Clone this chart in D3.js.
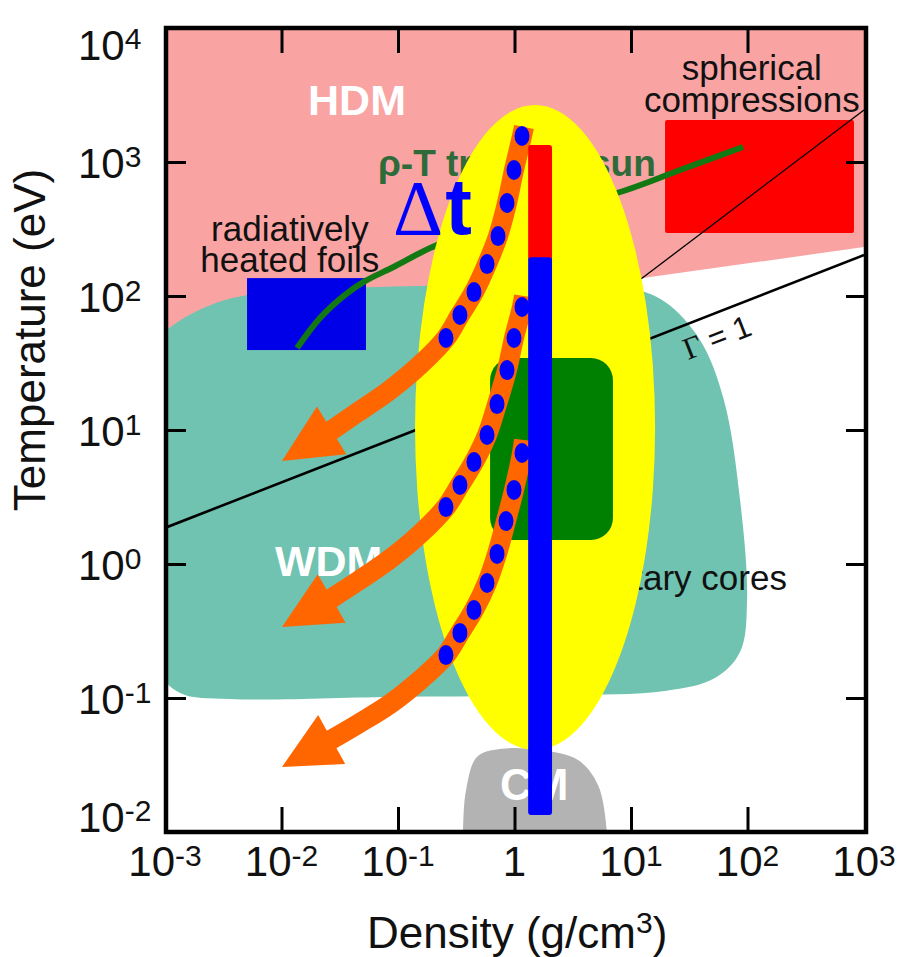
<!DOCTYPE html>
<html><head><meta charset="utf-8">
<script src="https://cdn.jsdelivr.net/npm/d3@7"></script>
<style>body{margin:0;background:#fff}</style>
</head><body>
<svg id="chart" width="912" height="957"></svg>
<script>
// ---------- axis ticks ----------
const xTicks = [1e-3, 1e-2, 1e-1, 1, 1e1, 1e2, 1e3];
const xTickBase = ["10", "10", "10", "1", "10", "10", "10"];
const xTickExp = ["-3", "-2", "-1", "", "1", "2", "3"];
const yTicks = [1e4, 1e3, 1e2, 1e1, 1e0, 1e-1, 1e-2];
const yTickBase = ["10", "10", "10", "10", "10", "10", "10"];
const yTickExp = ["4", "3", "2", "1", "0", "-1", "-2"];

// ---------- regions [density g/cm3, temperature eV] ----------
const hdmRegion = [[1e-3, 1e4], [1e3, 1e4], [1e3, 232], [12.7, 136], [1e-3, 40]];
const wdmRegion = [[9e-4, 48.6], [1.148e-3, 59.7], [1.81e-3, 76.0], [3.27e-3, 93.3], [6.54e-3, 105], [0.0214, 113],
  [0.155, 119], [2.46, 123], [8.87, 117], [19.6, 90.2], [39.1, 47.0], [62.8, 16.7], [86.3, 3.01], [99.1, 0.538],
  [86.3, 0.220], [52.6, 0.141], [19.6, 0.113], [2.46, 0.105], [0.104, 0.102], [3.61e-3, 0.0984], [1.35e-3, 0.109], [9e-4, 0.162]];
const cmRegion = [[0.361, 0.008], [0.361, 0.0098], [0.384, 0.0206], [0.476, 0.0363], [0.752, 0.0416],
  [1.66, 0.0409], [3.51, 0.0344], [5.21, 0.0224], [6.22, 0.0098], [6.22, 0.008]];

// ---------- experiment boxes ----------
const foilsRho = [0.00506, 0.0531];
const foilsT = [39.5, 136];
const sphereRho = [19.6, 820];
const sphereT = [295, 2056];
const ellipseRho = [0.140, 16.1];
const ellipseT = [0.0409, 2661];
const greenBoxRho = [0.617, 7.0];
const greenBoxT = [1.51, 34.4];
const barRho = [1.31, 2.10];
const barRedT = [195, 1340];
const barBlueT = [0.0134, 195];

// ---------- lines ----------
const sunTrack = [[0.0136, 40.9], [0.0214, 68.5], [0.0351, 102], [0.0521, 129], [0.0906, 164], [0.216, 240],
  [1.28, 402], [7.59, 587], [26.4, 871], [91.5, 1294]];
const gammaLine = [[1e-3, 1.86], [1e3, 202]];
const thinLine = [[1, 25.8], [1000, 2443]];

// ---------- arrows ----------
const arrowStarts = [[1.206, 1825], [1.206, 100], [1.206, 8.42]];
const arrowDots = [
  [[1.16, 1563], [0.99, 871], [0.862, 494], [0.722, 280], [0.581, 173], [0.449, 107], [0.34, 72.1], [0.258, 48.6]],
  [[1.16, 82.8], [0.99, 48.6], [0.862, 28.0], [0.708, 15.6], [0.581, 9.18], [0.449, 5.77], [0.34, 3.89], [0.258, 2.66]],
  [[1.16, 6.74], [0.99, 3.57], [0.845, 2.09], [0.708, 1.19], [0.581, 0.722], [0.449, 0.454], [0.34, 0.306], [0.258, 0.209]]
];
const arrowTails = [
  [[0.1545, 30.6], [0.0854, 19.9], [0.0454, 13.6], [0.0256, 9.66]],
  [[0.1545, 1.675], [0.0854, 1.09], [0.0454, 0.746], [0.0256, 0.539]],
  [[0.1545, 0.136], [0.0854, 0.0902], [0.0454, 0.064], [0.0256, 0.0478]]
];
const arrowTips = [[0.0101, 5.87], [0.0101, 0.339], [0.0101, 0.0306]];

// ---------- annotations ----------
const annotations = [
  {text: "HDM", rho: 0.0169, T: 2244, cls: "big"},
  {text: "WDM", rho: 0.00879, T: 0.813, cls: "big"},
  {text: "radiatively", rho: 0.0118, T: 257, cls: "lbl", anchor: "middle"},
  {text: "heated foils", rho: 0.0118, T: 151, cls: "lbl", anchor: "middle"},
  {text: "spherical", rho: 109, T: 4093, cls: "lbl", anchor: "middle"},
  {text: "compressions", rho: 109, T: 2361, cls: "lbl", anchor: "middle"},
  {text: "planetary cores", rho: 218, T: 0.640, cls: "lbl", anchor: "end"}
];
const sunLabel = {text: "ρ-T track of sun", rho: 0.0673, T: 787};
const gammaLabel = {rho: 30.8, T: 33.3};
const cmLabel = {text: "CM", rho: 0.752, T: 0.0173};
const dtLabel = {rho: 0.0906, T: 290};

// ---------- layout ----------
const W = 912, H = 957;
const frame = {left: 166, right: 866, top: 28, bottom: 832};
const sans = "'Liberation Sans', Arial, Helvetica, sans-serif";
const serif = "'Liberation Serif', 'Times New Roman', serif";

const x = d3.scaleLog().domain([1e-3, 1e3]).range([165, 864]);
const y = d3.scaleLog().domain([1e-2, 1e4]).range([832, 28]);

const svg = d3.select("#chart");
svg.append("rect").attr("width", W).attr("height", H).attr("fill", "#fff");

svg.append("clipPath").attr("id", "plotClip").append("rect")
  .attr("x", frame.left).attr("y", frame.top)
  .attr("width", frame.right - frame.left).attr("height", frame.bottom - frame.top);

const g = svg.append("g").attr("clip-path", "url(#plotClip)");

const lineLin = d3.line().x(d => x(d[0])).y(d => y(d[1]));
const lineClosed = d3.line().x(d => x(d[0])).y(d => y(d[1])).curve(d3.curveCatmullRomClosed.alpha(0.5));
const lineSmooth = d3.line().x(d => x(d[0])).y(d => y(d[1])).curve(d3.curveCatmullRom.alpha(0.5));

// regions
g.append("path").attr("d", lineLin(hdmRegion) + "Z").attr("fill", "#f9a3a3");
g.append("path").attr("d", lineClosed(wdmRegion)).attr("fill", "#6fc3b0");
g.append("path").attr("d", lineClosed(cmRegion)).attr("fill", "#b3b3b3");

// boxes
g.append("rect").attr("x", x(foilsRho[0])).attr("y", y(foilsT[1]))
  .attr("width", x(foilsRho[1]) - x(foilsRho[0])).attr("height", y(foilsT[0]) - y(foilsT[1]))
  .attr("fill", "#0000e8");
g.append("rect").attr("x", x(sphereRho[0])).attr("y", y(sphereT[1]))
  .attr("width", x(sphereRho[1]) - x(sphereRho[0])).attr("height", y(sphereT[0]) - y(sphereT[1]))
  .attr("rx", 2).attr("fill", "#ff0000");

// lines
g.append("path").attr("d", lineSmooth(sunTrack)).attr("fill", "none")
  .attr("stroke", "#137a13").attr("stroke-width", 6);
g.append("path").attr("d", lineLin(gammaLine)).attr("fill", "none")
  .attr("stroke", "#000").attr("stroke-width", 2.6);
g.append("path").attr("d", lineLin(thinLine)).attr("fill", "none")
  .attr("stroke", "#000").attr("stroke-width", 1.3);

// annotation text
annotations.forEach(a => {
  const t = g.append("text").attr("x", x(a.rho)).attr("y", y(a.T))
    .attr("font-family", sans).attr("text-anchor", a.anchor || "start").text(a.text);
  if (a.cls === "big") t.attr("font-size", 43).attr("font-weight", "bold").attr("fill", "#ffffff");
  else t.attr("font-size", 35).attr("fill", "#111");
});
g.append("text").attr("x", x(sunLabel.rho)).attr("y", y(sunLabel.T))
  .attr("font-family", sans).attr("font-size", 37).attr("font-weight", "bold")
  .attr("fill", "#2f6b3a").text(sunLabel.text);
const gl = g.append("text")
  .attr("transform", `translate(${x(gammaLabel.rho)},${y(gammaLabel.T)}) rotate(-21.3)`)
  .attr("font-size", 31).attr("fill", "#111");
gl.append("tspan").attr("font-family", serif).text("Γ");
gl.append("tspan").attr("font-family", sans).text(" = 1");
g.append("text").attr("x", x(cmLabel.rho)).attr("y", y(cmLabel.T))
  .attr("font-family", sans).attr("font-size", 44).attr("font-weight", "bold")
  .attr("fill", "#ffffff").text(cmLabel.text);

// yellow ellipse
const ex0 = x(ellipseRho[0]), ex1 = x(ellipseRho[1]), ey0 = y(ellipseT[1]), ey1 = y(ellipseT[0]);
g.append("ellipse").attr("cx", (ex0 + ex1) / 2).attr("cy", (ey0 + ey1) / 2)
  .attr("rx", (ex1 - ex0) / 2).attr("ry", (ey1 - ey0) / 2).attr("fill", "#ffff00");

// green rounded box
g.append("rect").attr("x", x(greenBoxRho[0])).attr("y", y(greenBoxT[1]))
  .attr("width", x(greenBoxRho[1]) - x(greenBoxRho[0])).attr("height", y(greenBoxT[0]) - y(greenBoxT[1]))
  .attr("rx", 22).attr("fill", "#008000");

// arrows
arrowStarts.forEach((s, i) => {
  const pts = [s, ...arrowDots[i], ...arrowTails[i]];
  g.append("path").attr("d", lineSmooth(pts)).attr("fill", "none")
    .attr("stroke", "#ff6600").attr("stroke-width", 20).attr("stroke-linecap", "butt");
  const last = arrowTails[i][arrowTails[i].length - 1];
  const bx = x(last[0]), by = y(last[1]);
  const tx = x(arrowTips[i][0]), ty = y(arrowTips[i][1]);
  const len = Math.hypot(tx - bx, ty - by);
  const ux = (tx - bx) / len, uy = (ty - by) / len;
  const px = -uy, py = ux, half = 28;
  const b2x = bx - ux * 3, b2y = by - uy * 3;
  g.append("path")
    .attr("d", `M${tx},${ty}L${b2x + px * half},${b2y + py * half}L${b2x - px * half},${b2y - py * half}Z`)
    .attr("fill", "#ff6600");
  g.selectAll(null).data(arrowDots[i]).enter().append("ellipse")
    .attr("cx", d => x(d[0])).attr("cy", d => y(d[1]))
    .attr("rx", 7.5).attr("ry", 10).attr("fill", "#0000ff");
});

// vertical bar
g.append("rect").attr("x", x(barRho[0])).attr("y", y(barRedT[1]))
  .attr("width", x(barRho[1]) - x(barRho[0])).attr("height", y(barRedT[0]) - y(barRedT[1]) + 4)
  .attr("rx", 3).attr("fill", "#ff0000");
g.append("rect").attr("x", x(barRho[0])).attr("y", y(barBlueT[1]))
  .attr("width", x(barRho[1]) - x(barRho[0])).attr("height", y(barBlueT[0]) - y(barBlueT[1]))
  .attr("rx", 3).attr("fill", "#0000ff");

// Δt
const dt = g.append("text").attr("x", x(dtLabel.rho)).attr("y", y(dtLabel.T)).attr("fill", "#0000ff");
dt.append("tspan").attr("font-family", serif).attr("font-size", 78).text("Δ");
dt.append("tspan").attr("font-family", sans).attr("font-weight", "bold").attr("font-size", 80).attr("dx", 2).text("t");

// ---------- axes ----------
const innerX = xTicks.slice(1, -1);
const innerY = yTicks.slice(1, -1);
function styleAxis(sel) {
  sel.select(".domain").remove();
  sel.selectAll(".tick line").attr("stroke", "#000").attr("stroke-width", 3);
  sel.selectAll(".tick text").remove();
}
svg.append("g").attr("transform", `translate(0,${frame.bottom})`)
  .call(d3.axisBottom(x).tickValues(innerX).tickSize(-25).tickFormat("")).call(styleAxis);
svg.append("g").attr("transform", `translate(0,${frame.top})`)
  .call(d3.axisTop(x).tickValues(innerX).tickSize(-25).tickFormat("")).call(styleAxis);
svg.append("g").attr("transform", `translate(${frame.left},0)`)
  .call(d3.axisLeft(y).tickValues(innerY).tickSize(-20).tickFormat("")).call(styleAxis);
svg.append("g").attr("transform", `translate(${frame.right},0)`)
  .call(d3.axisRight(y).tickValues(innerY).tickSize(-20).tickFormat("")).call(styleAxis);

svg.append("rect").attr("x", frame.left).attr("y", frame.top)
  .attr("width", frame.right - frame.left).attr("height", frame.bottom - frame.top)
  .attr("fill", "none").attr("stroke", "#000").attr("stroke-width", 4.5);

// tick labels
xTicks.forEach((v, i) => {
  const t = svg.append("text").attr("x", x(v)).attr("y", 876).attr("text-anchor", "middle")
    .attr("font-family", sans).attr("font-size", 42).attr("fill", "#111");
  t.append("tspan").text(xTickBase[i]);
  if (xTickExp[i]) t.append("tspan").attr("font-size", 30).attr("dy", -10).text(xTickExp[i]);
});
yTicks.forEach((v, i) => {
  const base = Math.max(60, Math.min(832, y(v) + 16));
  const t = svg.append("text").attr("x", 78).attr("y", base)
    .attr("font-family", sans).attr("font-size", 42).attr("fill", "#111");
  t.append("tspan").text(yTickBase[i]);
  t.append("tspan").attr("font-size", 30).attr("dy", -11).text(yTickExp[i]);
});

// axis titles
const xt = svg.append("text").attr("x", 367).attr("y", 948)
  .attr("font-family", sans).attr("font-size", 44).attr("fill", "#111");
xt.append("tspan").text("Density (g/cm");
xt.append("tspan").attr("font-size", 30).attr("dy", -15).text("3");
xt.append("tspan").attr("dy", 15).text(")");
svg.append("text").attr("transform", "translate(45,340) rotate(-90)").attr("text-anchor", "middle")
  .attr("font-family", sans).attr("font-size", 44).attr("fill", "#111").text("Temperature (eV)");

// partially visible title at the top (cut off by the top edge, as in the source figure)
svg.append("text").attr("x", 520).attr("y", -7).attr("text-anchor", "middle")
  .attr("font-family", sans).attr("font-size", 34).attr("font-weight", "bold")
  .attr("fill", "#1c1c50").text("Hydrogen phase diagram");
</script>
</body></html>
